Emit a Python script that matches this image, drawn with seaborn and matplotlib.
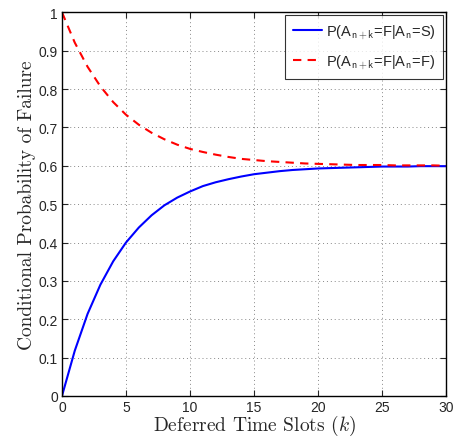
import numpy as np
import pandas as pd
import seaborn as sns
import matplotlib.pyplot as plt

# values (k = 0..30)
k_slots = list(range(31))
p_fail_given_s = [0.0, 0.118, 0.214, 0.290, 0.351, 0.400, 0.439, 0.471, 0.497, 0.517,
                  0.533, 0.547, 0.557, 0.565, 0.572, 0.578, 0.582, 0.586, 0.589, 0.591,
                  0.593, 0.594, 0.595, 0.596, 0.597, 0.598, 0.598, 0.598, 0.599, 0.599, 0.599]
p_fail_given_f = [1.0, 0.921, 0.858, 0.807, 0.766, 0.733, 0.707, 0.686, 0.669, 0.655,
                  0.644, 0.636, 0.629, 0.623, 0.618, 0.615, 0.612, 0.610, 0.608, 0.606,
                  0.605, 0.604, 0.603, 0.602, 0.602, 0.602, 0.601, 0.601, 0.601, 0.601, 0.600]
label_s = r'P(A$_{\mathsf{n+k}}$=F|A$_{\mathsf{n}}$=S)'
label_f = r'P(A$_{\mathsf{n+k}}$=F|A$_{\mathsf{n}}$=F)'

sns.set_style('ticks')
plt.rcParams['font.family'] = ['Liberation Sans', 'DejaVu Sans']
plt.rcParams['mathtext.fontset'] = 'cm'

df = pd.DataFrame({
    'k': k_slots * 2,
    'p': p_fail_given_s + p_fail_given_f,
    'series': [label_s] * len(k_slots) + [label_f] * len(k_slots),
})

fig = plt.figure(figsize=(4.59, 4.39), dpi=100)
ax = fig.add_axes([0.135, 0.0957, 0.837, 0.874])

sns.lineplot(data=df, x='k', y='p', hue='series', style='series',
             palette=['#0000ff', '#ff0000'], dashes=[(None, None), (4, 3)],
             linewidth=1.5, ax=ax)

ax.set_xlim(0, 30)
ax.set_ylim(0, 1)
ax.set_xticks(np.arange(0, 31, 5))
ax.set_yticks(np.arange(0, 1.01, 0.1))
ax.set_xticklabels([str(v) for v in range(0, 31, 5)])
ax.set_yticklabels(['0'] + ['%.1f' % v for v in np.arange(0.1, 0.95, 0.1)] + ['1'])
ax.grid(True, linestyle=(0, (1, 3)), color='#888888', linewidth=0.7)
ax.tick_params(direction='in', top=True, right=True, labelsize=10, length=4, width=0.8, pad=3)
for s in ax.spines.values():
    s.set_visible(True)
    s.set_linewidth(1.0)
    s.set_color('black')

ax.set_xlabel(r'Deferred Time Slots ($k$)', fontfamily='cmr10', fontsize=14, labelpad=-1)
ax.set_ylabel('Conditional Probability of Failure', fontfamily='cmr10', fontsize=14, labelpad=2)

leg = ax.legend(loc='upper right', frameon=True, fancybox=False, edgecolor='black',
                fontsize=10.5, handlelength=2.0, handletextpad=0.3, labelspacing=0.8,
                borderaxespad=0.2, borderpad=0.5, title=None)
leg.get_frame().set_linewidth(0.8)

fig.savefig('out.png', dpi=100)
